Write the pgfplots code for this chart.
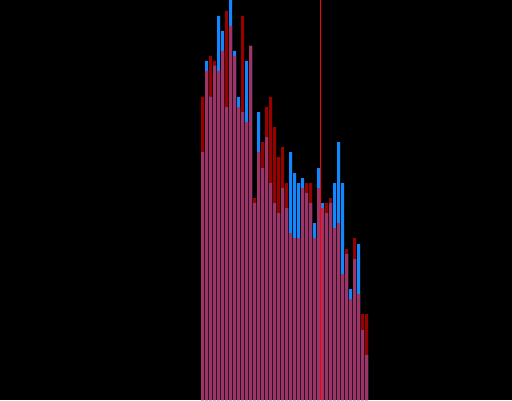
\documentclass[border=0pt]{standalone}
\usepackage{pgfplots}
\pgfplotsset{compat=1.18}
\usepackage{pgfplotstable}

\definecolor{barred}{RGB}{153,0,0}
\definecolor{barblue}{RGB}{17,136,255}
\definecolor{overlap}{RGB}{158,52,102}
\definecolor{marker}{RGB}{255,0,0}

% two series per bin; "both" is the shared part (the smaller of the two)
\pgfplotstableread{
i  red  blue both
0  303  248  248
1  329  339  329
2  344  303  303
3  339  334  334
4  329  384  329
5  349  369  349
6  389  293  293
7  374  400  374
8  344  349  344
9  293  303  293
10 384  288  288
11 278  339  278
12 354  354  354
13 202  197  197
14 248  288  248
15 258  232  232
16 293  263  263
17 303  217  217
18 273  197  197
19 243  187  187
20 253  212  212
21 217  192  192
22 167  248  167
23 162  227  162
24 162  217  162
25 212  222  212
26 217  207  207
27 217  197  197
28 162  177  162
29 212  232  212
30 192  197  192
31 197  187  187
32 202  197  197
33 172  217  172
34 177  258  177
35 126  217  126
36 151  146  146
37 101  111  101
38 162  141  141
39 106  156  106
40  86   70   70
41  86   45   45
}\bins

\begin{document}
\begin{tikzpicture}
\fill[black] (0,0) rectangle (512pt,400pt);
\begin{axis}[
  at={(0,0)}, anchor=south west,
  scale only axis, width=512pt, height=400pt,
  hide axis,
  xmin=-50.625, xmax=77.375,
  ymin=0, ymax=400,
]
\addplot[ybar, bar width=0.75, bar shift=0, fill=barred, draw=none]
  table[x=i, y=red] {\bins};
\addplot[ybar, bar width=0.75, bar shift=0, fill=barblue, draw=none]
  table[x=i, y=blue] {\bins};
\addplot[ybar, bar width=0.75, bar shift=0, fill=overlap, draw=none]
  table[x=i, y=both] {\bins};
% reference line between bins 29 and 30
\addplot[marker, line width=1pt] coordinates {(29.5,0) (29.5,400)};
\end{axis}
\end{tikzpicture}
\end{document}
